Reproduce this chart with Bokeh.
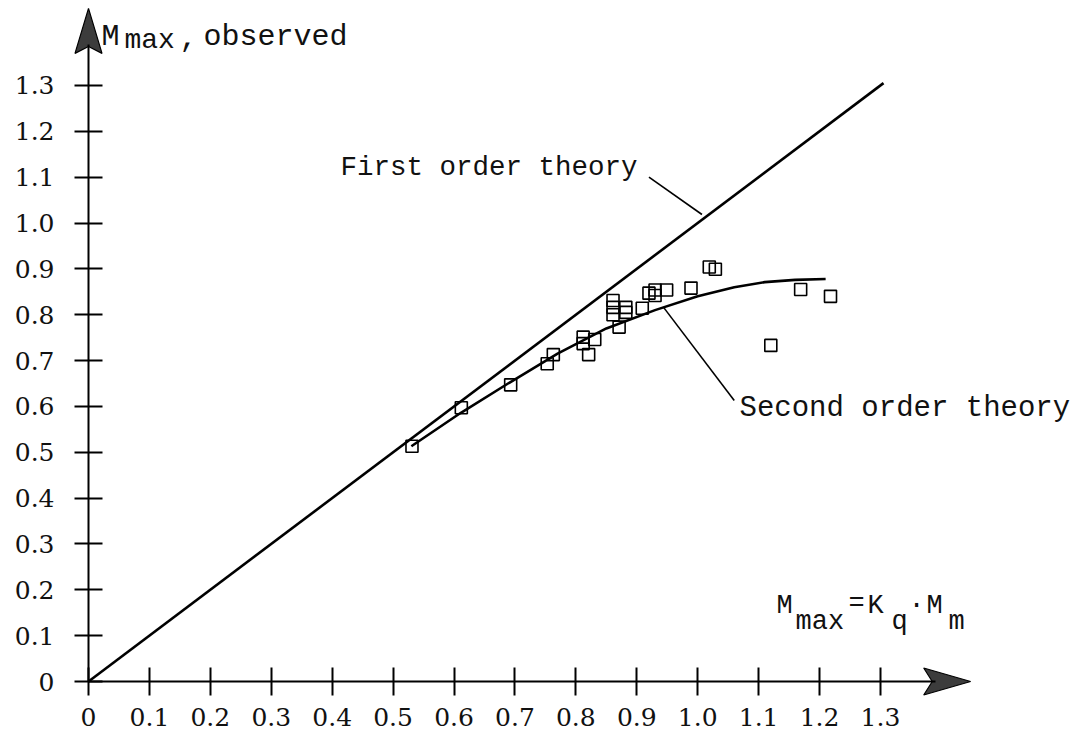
from bokeh.plotting import figure
from bokeh.models import Range1d, FixedTicker
from bokeh.core.properties import value
from bokeh.embed import file_html
from bokeh.resources import INLINE

# Observed maximum moments against the predicted value K_q * M_m
predicted = [0.531, 0.612, 0.693, 0.753, 0.763, 0.812, 0.812, 0.831, 0.821,
             0.861, 0.861, 0.861, 0.882, 0.882, 0.871, 0.909, 0.920, 0.930,
             0.930, 0.949, 0.989, 1.019, 1.029, 1.120, 1.169, 1.218]
observed = [0.513, 0.597, 0.647, 0.693, 0.713, 0.751, 0.737, 0.746, 0.713,
            0.831, 0.816, 0.800, 0.816, 0.805, 0.773, 0.814, 0.847, 0.854,
            0.842, 0.854, 0.858, 0.904, 0.899, 0.733, 0.855, 0.840]

# Second order theory curve
second_x = [0.53, 0.61, 0.69, 0.77, 0.85, 0.93, 1.00, 1.06, 1.11, 1.16, 1.21]
second_y = [0.513, 0.585, 0.651, 0.715, 0.770, 0.810, 0.840, 0.860, 0.871, 0.876, 0.878]

# First order theory: observed equals predicted
first_x = [0.0, 1.305]
first_y = [0.0, 1.305]

x_ticks = [0, 0.1, 0.2, 0.3, 0.4, 0.5, 0.6, 0.7, 0.8, 0.9, 1.0, 1.1, 1.2, 1.3]
x_tick_labels = ["0", "0.1", "0.2", "0.3", "0.4", "0.5", "0.6", "0.7",
                 "0.8", "0.9", "1.0", "1.1", "1.2", "1.3"]
y_ticks = [0, 0.1, 0.2, 0.3, 0.4, 0.5, 0.6, 0.7, 0.8, 0.9, 1.0, 1.1, 1.2, 1.3]
y_tick_labels = ["0", "0.1", "0.2", "0.3", "0.4", "0.5", "0.6", "0.7",
                 "0.8", "0.9", "1.0", "1.1", "1.2", "1.3"]

W, H = 1085, 736
# origin position on the canvas and pixels per unit
ox, oy = 88.0, 681.0
sx, sy = 609.2, 458.5

p = figure(width=W, height=H,
           x_range=Range1d(-ox / sx, (W - ox) / sx),
           y_range=Range1d(-(H - oy) / sy, oy / sy),
           output_backend="svg", toolbar_location=None, min_border=0)
p.outline_line_color = None
p.grid.visible = False
p.background_fill_color = "white"
p.border_fill_color = "white"

MONO = "Liberation Mono"
TICK_FONT = "DejaVu Serif"

for ax, ticks, labels, standoff in ((p.xaxis[0], x_ticks, x_tick_labels, 12),
                                    (p.yaxis[0], y_ticks, y_tick_labels, 20)):
    ax.fixed_location = 0
    ax.bounds = (0, 1.39)
    ax.ticker = FixedTicker(ticks=ticks)
    ax.major_label_overrides = {t: s for t, s in zip(ticks, labels)}
    ax.axis_line_width = 2
    ax.axis_line_color = "black"
    ax.major_tick_line_width = 2
    ax.major_tick_line_color = "black"
    ax.major_tick_in = 14
    ax.major_tick_out = 14
    ax.minor_tick_line_color = None
    ax.major_label_text_font = TICK_FONT
    ax.major_label_text_font_size = "25px"
    ax.major_label_text_color = "#111111"
    ax.major_label_standoff = standoff

# arrowheads at the axis ends
ahx = 13.5 / sx
ahy = 13.5 / sy
p.patch([1.448, 1.371, 1.385, 1.371], [0, ahy, 0, -ahy],
        fill_color="#3c3c3c", line_color="black", line_width=1.2)
p.patch([0, ahx, 0, -ahx], [1.468, 1.370, 1.385, 1.370],
        fill_color="#3c3c3c", line_color="black", line_width=1.2)

# theory lines
p.line(first_x, first_y, line_color="black", line_width=2.6)
p.line(second_x, second_y, line_color="black", line_width=2.6)

# observations
p.scatter(predicted, observed, marker="square", size=12,
          fill_color=None, line_color="black", line_width=1.6)

# leader lines to the annotations
p.line([0.920, 1.007], [1.100, 1.0185], line_color="black", line_width=1.6)
p.line([0.944, 1.060], [0.816, 0.613], line_color="black", line_width=1.6)


def px_x(v):
    return (v - ox) / sx


def px_y(v):
    return (oy - v) / sy


def label(texts, xs, ys, size):
    p.text(x=[px_x(v) for v in xs], y=[px_y(v) for v in ys], text=texts,
           text_font=value(MONO), text_font_size=value(size),
           text_color="#111111", text_baseline="alphabetic", text_align="left")


label(["First order theory"], [340], [167], "27.5px")
label(["Second order theory"], [739], [408], "29px")

# vertical axis title
label(["M", ",", "observed"], [101, 179, 203], [36, 36, 36], "30px")
label(["max"], [124], [40], "28px")

# horizontal axis title
label(["M", "=", "K", "·", "M"], [776, 848, 867, 908, 926], [605, 603, 605, 605, 605], "27px")
label(["max", "q", "m"], [795, 891, 948], [621, 621, 621], "27px")

open("out.html", "w").write(file_html(p, INLINE))
